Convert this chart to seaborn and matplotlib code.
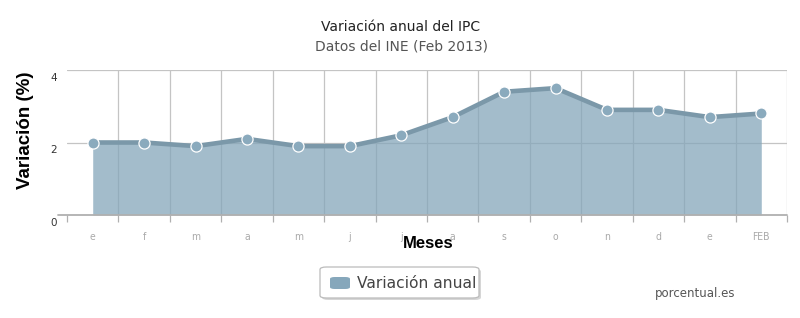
import matplotlib
matplotlib.use("Agg")
import matplotlib.pyplot as plt
import matplotlib.transforms as mtrans
import seaborn as sns
import pandas as pd
import numpy as np
from matplotlib.patches import FancyBboxPatch

months = ["e", "f", "m", "a", "m", "j", "j", "a", "s", "o", "n", "d", "e", "FEB"]
values = [2.0, 2.0, 1.9, 2.1, 1.9, 1.9, 2.2, 2.7, 3.4, 3.5, 2.9, 2.9, 2.7, 2.8]
yticks = [0, 2, 4]

title = "Variación anual del IPC"
subtitle = "Datos del INE (Feb 2013)"
xlabel = "Meses"
ylabel = "Variación (%)"
series_name = "Variación anual"
credit = "porcentual.es"

sns.set_style("white")
plt.rcParams['font.family'] = ['DejaVu Sans']

df = pd.DataFrame({"pos": np.arange(len(months)), "val": values})

fig = plt.figure(figsize=(8, 3.18), dpi=100)
ax = fig.add_axes([67/800, 103/318, 720/800, 145/318])

fill_c = "#84a6ba"
line_c = "#7b98a9"
mark_c = "#8aaabd"

# grid lines (under the semi-transparent fill)
for b in np.arange(0.5, len(months), 1.0):
    ax.axvline(b, color="#c4c4c4", linewidth=0.9, zorder=1)
for yv in yticks[1:]:
    ax.axhline(yv, color="#c4c4c4", linewidth=0.9, zorder=1)

ax.fill_between(df["pos"], 0, df["val"], color=fill_c, alpha=0.75, zorder=2, linewidth=0)
sns.lineplot(data=df, x="pos", y="val", ax=ax, color=line_c, linewidth=3.3,
             marker="o", markersize=8, markerfacecolor=mark_c,
             markeredgecolor="white", markeredgewidth=0.9, zorder=3)

ax.set_xlim(-0.5, len(months) - 0.5)
ax.set_ylim(0, 4)

for s in ["top", "right", "left", "bottom"]:
    ax.spines[s].set_visible(False)
ax.plot([-9/720, 1], [0, 0], transform=ax.transAxes, clip_on=False,
        color="#b0b0b0", linewidth=1.3, zorder=4)

ax.set_yticks(yticks)
ax.set_yticklabels([str(t) for t in yticks], fontsize=7.5, color="#333333",
                   va="top")
ax.tick_params(axis="y", length=5, width=0.9, color="#b8b8b8", pad=2)
off = mtrans.ScaledTranslation(0, -2/72, fig.dpi_scale_trans)
for lab in ax.get_yticklabels():
    lab.set_transform(lab.get_transform() + off)

ax.set_xticks(np.arange(-0.5, len(months), 1.0), minor=False)
ax.set_xticklabels([])
ax.tick_params(axis="x", which="major", length=5, width=0.9, color="#b0b0b0",
               direction="out", bottom=True)
ax.set_xticks(np.arange(len(months)), minor=True)
ax.set_xticklabels(months, minor=True, fontsize=7.5, color="#aaaaaa",
                   fontstretch="condensed")
ax.tick_params(axis="x", which="minor", length=0, pad=12, bottom=True)

ax.set_xlabel("")
ax.set_ylabel("")

fig.text(428/800, 1 - 243/318, xlabel, ha="center", va="center",
         fontsize=12, fontweight="bold", color="black", family="Liberation Sans",
         zorder=10)
fig.text(26/800, 1 - 130/318, ylabel, ha="center", va="center", rotation=90,
         fontsize=13.5, fontweight="bold", color="black", family="Liberation Sans")

fig.text(401/800, 1 - 27/318, title, ha="center", va="center",
         fontsize=10, color="#222222")
fig.text(402/800, 1 - 46/318, subtitle, ha="center", va="center",
         fontsize=10, color="#555555")

# legend box
shadow = FancyBboxPatch((322/800, 1 - 300/318), 159/800, 31/318,
                        boxstyle="round,pad=0,rounding_size=0.008",
                        transform=fig.transFigure, facecolor="#d6d6d6",
                        edgecolor="none", zorder=1)
box = FancyBboxPatch((320/800, 1 - 298/318), 159/800, 31/318,
                     boxstyle="round,pad=0,rounding_size=0.008",
                     transform=fig.transFigure, facecolor="white",
                     edgecolor="#bbbbbb", linewidth=0.9, zorder=2)
fig.patches.extend([shadow, box])
patch = FancyBboxPatch((330/800, 1 - 289/318), 20/800, 12/318,
                       boxstyle="round,pad=0,rounding_size=0.006",
                       transform=fig.transFigure, facecolor="#86a7bb",
                       edgecolor="none", zorder=3)
fig.patches.append(patch)
fig.text(357/800, 1 - 283/318, series_name, ha="left", va="center",
         fontsize=11.2, color="#444444", zorder=4)

fig.text(695/800, 1 - 294/318, credit, ha="center", va="center",
         fontsize=8.5, color="#555555")

fig.savefig("out.png", dpi=100)
